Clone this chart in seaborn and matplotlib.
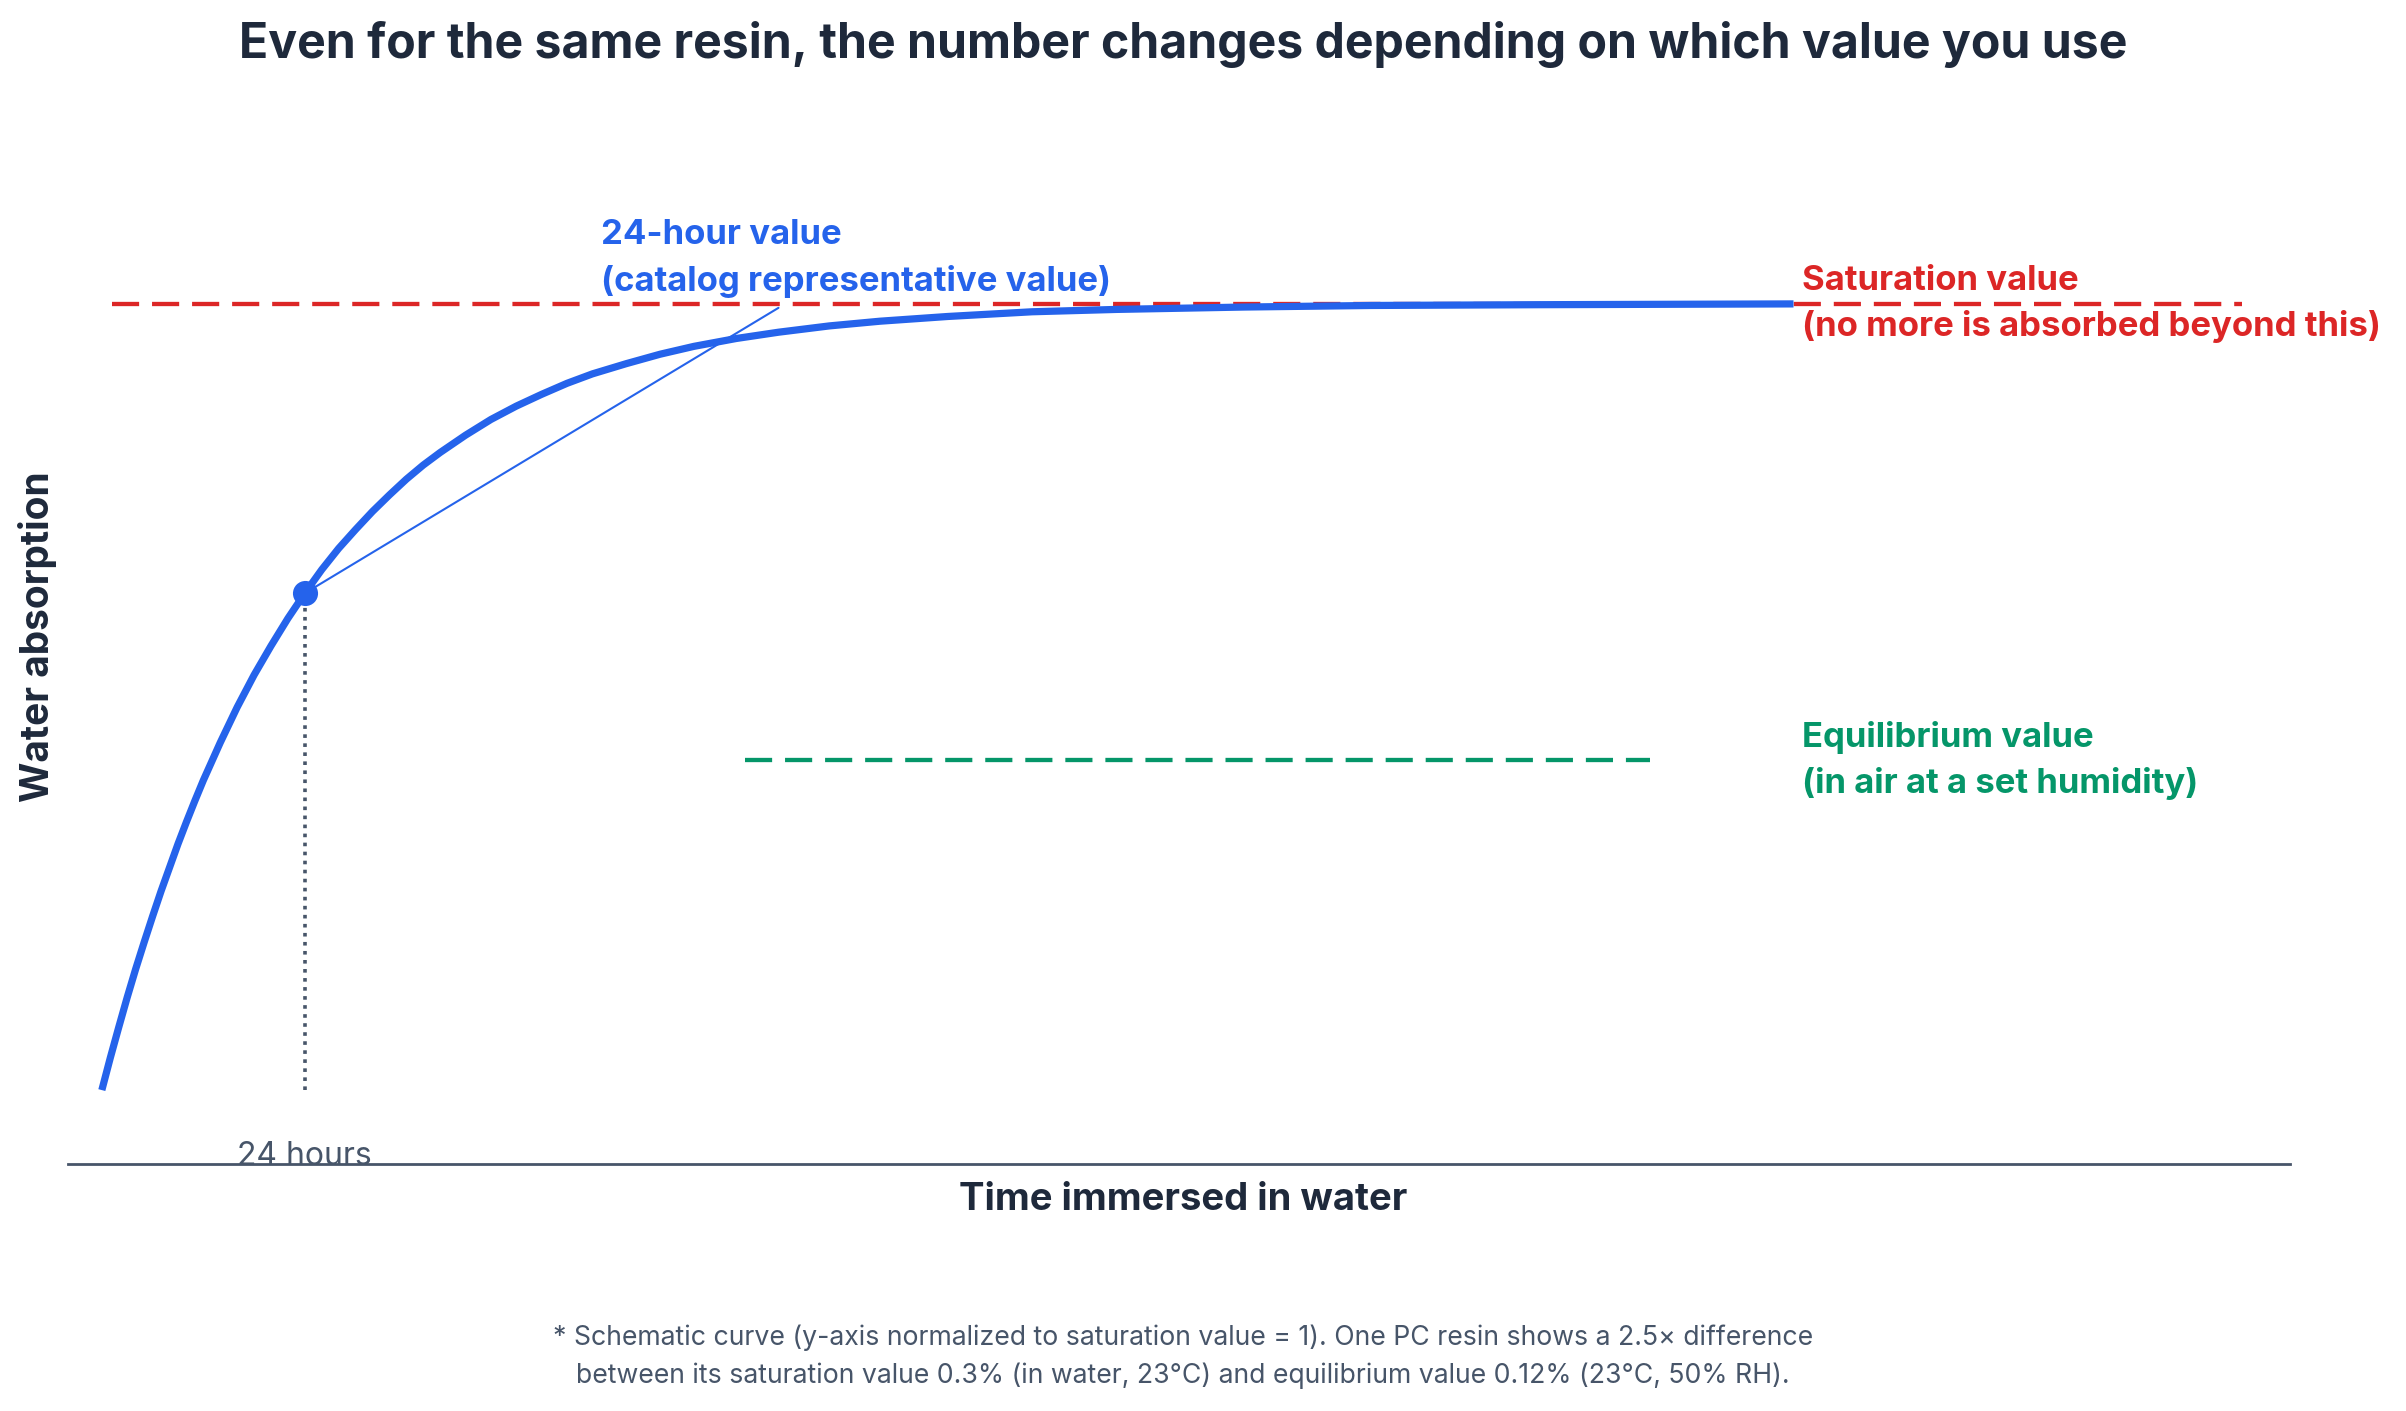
import numpy as np
import pandas as pd
import seaborn as sns
import matplotlib.pyplot as plt

# schematic absorption curve, normalized to saturation = 1
hours = [0, 1, 2, 3, 4, 5, 6, 7, 8, 9, 10, 11, 12, 14, 16, 18, 20, 22, 24,
         26, 28, 30, 32, 34, 36, 38, 40, 43, 46, 49, 52, 55, 58, 62, 66, 70,
         75, 80, 86, 92, 100, 110, 120, 135, 150, 170, 200]
absorption = [0.0, 0.041, 0.080, 0.118, 0.154, 0.188, 0.221, 0.253, 0.283,
              0.313, 0.341, 0.368, 0.394, 0.442, 0.487, 0.528, 0.565, 0.600,
              0.632, 0.662, 0.689, 0.713, 0.736, 0.757, 0.777, 0.795, 0.811,
              0.833, 0.853, 0.870, 0.885, 0.899, 0.911, 0.924, 0.936, 0.946,
              0.956, 0.964, 0.972, 0.978, 0.984, 0.990, 0.993, 0.996, 0.998,
              0.999, 1.0]

point_hours = 24
point_value = 0.632

saturation = 1.0
saturation_span = [1.2, 253]
equilibrium = 0.42
equilibrium_span = [76, 183]

leader_end = [80, 0.995]

BLUE = "#2563eb"
RED = "#dc2626"
GREEN = "#059669"
DARK = "#1e293b"
GRAY = "#475569"

sns.set_theme(style="white")
plt.rcParams['font.family'] = ['Inter', 'DejaVu Sans']

curve = pd.DataFrame({'hours': hours, 'absorption': absorption})

W, H = 2406, 1411
fig = plt.figure(figsize=(W / 100, H / 100), dpi=100)
ax = fig.add_axes([68 / W, 1 - 1164 / H, (2290 - 68) / W, (1164 - 105) / H])

# reference levels
ax.plot(saturation_span, [saturation, saturation], color=RED, lw=3.1,
        dashes=(6.3, 3.0), dash_capstyle='butt', zorder=2)
ax.plot(equilibrium_span, [equilibrium, equilibrium], color=GREEN, lw=3.1,
        dashes=(6.3, 3.0), dash_capstyle='butt', zorder=2)

# dotted drop line at 24 h
ax.plot([point_hours, point_hours], [0, point_value], color=GRAY, lw=2.6,
        linestyle=(0, (1, 1.5)), zorder=1)

sns.lineplot(data=curve, x='hours', y='absorption', color=BLUE, lw=5.2,
             solid_joinstyle='round', solid_capstyle='butt', ax=ax, zorder=3)

# leader line to the 24-hour label
ax.plot([point_hours, leader_end[0]], [point_value, leader_end[1]],
        color=BLUE, lw=1.5, zorder=3)
sns.scatterplot(x=[point_hours], y=[point_value], color=BLUE, s=280,
                edgecolor=BLUE, ax=ax, zorder=4)

lbl = dict(fontsize=25, fontweight='bold', va='center', ha='left')
ax.text(59, 1.088, "24-hour value", color=BLUE, **lbl)
ax.text(59, 1.029, "(catalog representative value)", color=BLUE, **lbl)
ax.text(201, 1.029, "Saturation value", color=RED, **lbl)
ax.text(201, 0.971, "(no more is absorbed beyond this)", color=RED, **lbl)
ax.text(201, 0.449, "Equilibrium value", color=GREEN, **lbl)
ax.text(201, 0.390, "(in air at a set humidity)", color=GREEN, **lbl)

ax.text(point_hours, -0.085, "24 hours", color=GRAY, fontsize=23,
        ha='center', va='center', zorder=0)

ax.set_xlim(-4, 258.7)
ax.set_ylim(-0.094, 1.253)
ax.set_xticks([])
ax.set_yticks([])
ax.set_xlabel("")
ax.set_ylabel("")
for side in ['top', 'right', 'left']:
    ax.spines[side].set_visible(False)
ax.spines['bottom'].set_color(GRAY)
ax.spines['bottom'].set_linewidth(2.0)

fig.text(0.4917, 1 - 45 / H,
         "Even for the same resin, the number changes depending on which value you use",
         ha='center', va='center', fontsize=34.7, fontweight='bold', color=DARK)
fig.text(0.4917, 1 - 1200 / H, "Time immersed in water", ha='center', va='center',
         fontsize=27.5, fontweight='bold', color=DARK)
fig.text(38 / W, 1 - 637 / H, "Water absorption", ha='center', va='center',
         rotation=90, fontsize=28, fontweight='bold', color=DARK)
fig.text(0.4917, 1 - 1338 / H,
         "* Schematic curve (y-axis normalized to saturation value = 1). "
         "One PC resin shows a 2.5× difference",
         ha='center', va='center', fontsize=19.2, color=GRAY)
fig.text(0.4917, 1 - 1376 / H,
         "between its saturation value 0.3% (in water, 23°C) and "
         "equilibrium value 0.12% (23°C, 50% RH).",
         ha='center', va='center', fontsize=19.2, color=GRAY)

fig.savefig("out.png", dpi=100, facecolor='white')
